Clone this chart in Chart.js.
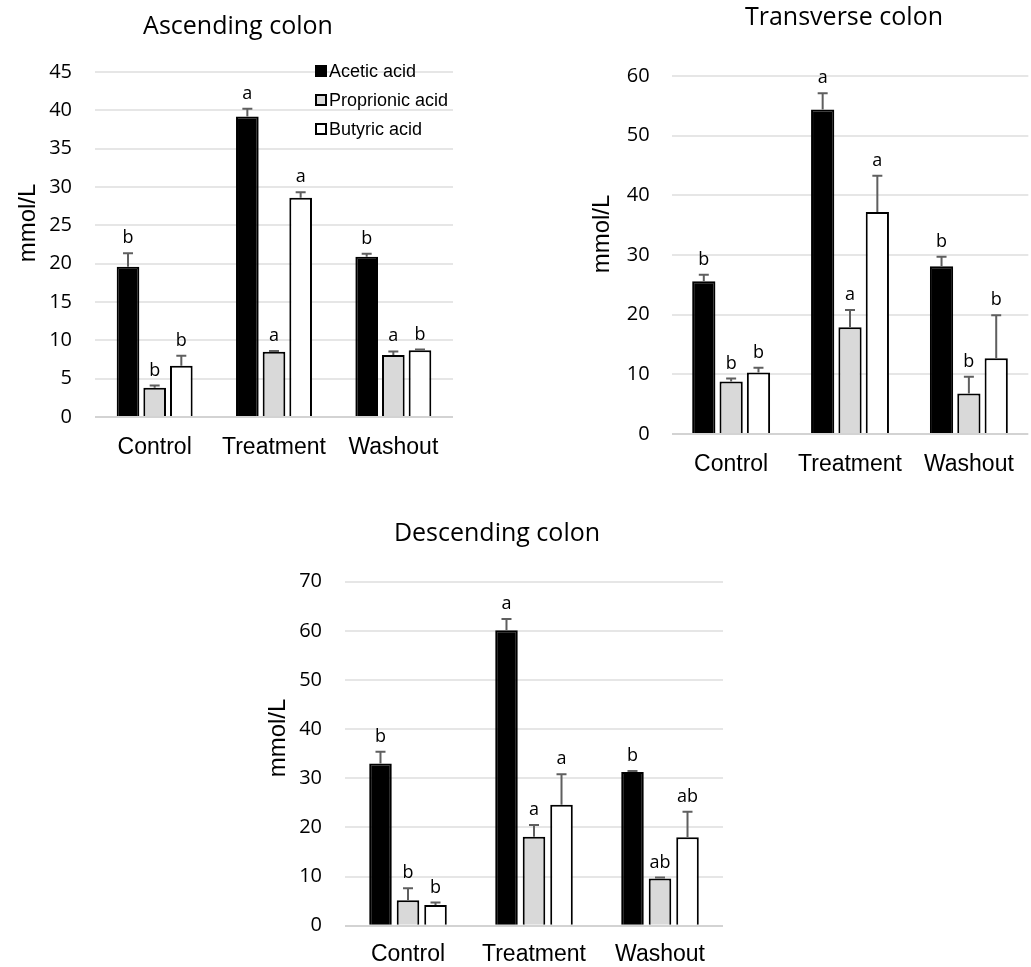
<!DOCTYPE html>
<html>
<head>
<meta charset="utf-8">
<script src="https://cdn.jsdelivr.net/npm/chart.js@4.4.1/dist/chart.umd.min.js"></script>
<style>
  html, body { margin: 0; padding: 0; background: #ffffff; }
  body { width: 1031px; height: 967px; position: relative; overflow: hidden; }
  canvas { position: absolute; }
</style>
</head>
<body>
<canvas id="ascending" width="480" height="480" style="left:0px;top:0px"></canvas>
<canvas id="transverse" width="491" height="490" style="left:540px;top:0px"></canvas>
<canvas id="descending" width="500" height="477" style="left:250px;top:490px"></canvas>
<script>
// Sampling periods and short-chain fatty acids
const groups = ['Control', 'Treatment', 'Washout'];
const acidNames = ['Acetic acid', 'Proprionic acid', 'Butyric acid'];

// Ascending colon (mmol/L): means, error (SE) and significance letters
const ascAcetic = [19.6, 39.2, 20.9];
const ascAceticErr = [1.75, 1.0, 0.4];
const ascAceticSig = ['b', 'a', 'b'];
const ascPropionic = [3.8, 8.5, 8.1];
const ascPropionicErr = [0.3, 0.1, 0.45];
const ascPropionicSig = ['b', 'a', 'a'];
const ascButyric = [6.7, 28.6, 8.7];
const ascButyricErr = [1.3, 0.7, 0.1];
const ascButyricSig = ['b', 'a', 'b'];
const ascTicks = { max: 45, step: 5 };

// Transverse colon (mmol/L)
const trAcetic = [25.6, 54.4, 28.1];
const trAceticErr = [1.1, 2.7, 1.6];
const trAceticSig = ['b', 'a', 'b'];
const trPropionic = [8.8, 17.9, 6.8];
const trPropionicErr = [0.5, 2.9, 2.8];
const trPropionicSig = ['b', 'a', 'b'];
const trButyric = [10.3, 37.2, 12.7];
const trButyricErr = [0.8, 6.1, 7.2];
const trButyricSig = ['b', 'a', 'b'];
const trTicks = { max: 60, step: 10 };

// Descending colon (mmol/L)
const dsAcetic = [33.0, 60.1, 31.3];
const dsAceticErr = [2.4, 2.3, 0.2];
const dsAceticSig = ['b', 'a', 'b'];
const dsPropionic = [5.2, 18.1, 9.6];
const dsPropionicErr = [2.4, 2.4, 0.2];
const dsPropionicSig = ['b', 'a', 'ab'];
const dsButyric = [4.2, 24.6, 18.0];
const dsButyricErr = [0.5, 6.2, 5.2];
const dsButyricSig = ['b', 'a', 'ab'];
const dsTicks = { max: 70, step: 10 };

const fillColors = ['#000000', '#d9d9d9', '#ffffff'];

// Upward error bars with a cap, drawn from each bar's value
const errorBars = {
  id: 'errorBars',
  afterDatasetsDraw(chart, args, opts) {
    const { ctx } = chart;
    const y = chart.scales.y;
    ctx.save();
    ctx.strokeStyle = opts.color;
    ctx.lineWidth = opts.width;
    chart.data.datasets.forEach((ds, i) => {
      chart.getDatasetMeta(i).data.forEach((bar, j) => {
        const base = y.getPixelForValue(ds.data[j]);
        const top = y.getPixelForValue(ds.data[j] + ds.errors[j]);
        ctx.beginPath();
        ctx.moveTo(bar.x, base);
        ctx.lineTo(bar.x, top);
        ctx.moveTo(bar.x - opts.cap / 2, top);
        ctx.lineTo(bar.x + opts.cap / 2, top);
        ctx.stroke();
      });
    });
    ctx.restore();
  }
};

// Significance letters above the error bars
const sigLetters = {
  id: 'sigLetters',
  afterDatasetsDraw(chart, args, opts) {
    const { ctx } = chart;
    const y = chart.scales.y;
    ctx.save();
    ctx.font = opts.font;
    ctx.fillStyle = opts.color;
    ctx.textAlign = 'center';
    ctx.textBaseline = 'alphabetic';
    chart.data.datasets.forEach((ds, i) => {
      chart.getDatasetMeta(i).data.forEach((bar, j) => {
        const top = y.getPixelForValue(ds.data[j] + ds.errors[j]);
        ctx.fillText(ds.letters[j], bar.x, top - opts.gap);
      });
    });
    ctx.restore();
  }
};

// Panel title and vertical axis title
const panelText = {
  id: 'panelText',
  afterDraw(chart, args, opts) {
    const { ctx } = chart;
    ctx.save();
    ctx.fillStyle = '#000000';
    ctx.textAlign = 'center';
    ctx.textBaseline = 'alphabetic';
    ctx.font = opts.titleFont;
    ctx.fillText(opts.title, opts.titleX, opts.titleY);
    ctx.translate(opts.axisX, opts.axisY);
    ctx.rotate(-Math.PI / 2);
    ctx.font = opts.axisFont;
    ctx.fillText(opts.axisTitle, 0, 0);
    ctx.restore();
  }
};

// Vertical legend with outlined square swatches
const boxLegend = {
  id: 'boxLegend',
  afterDraw(chart, args, opts) {
    if (!opts.show) return;
    const { ctx } = chart;
    ctx.save();
    ctx.font = opts.font;
    ctx.textAlign = 'left';
    ctx.textBaseline = 'alphabetic';
    chart.data.datasets.forEach((ds, i) => {
      const base = opts.y + i * opts.rowGap;
      ctx.fillStyle = ds.backgroundColor;
      ctx.fillRect(opts.x, base - opts.box, opts.box, opts.box);
      ctx.strokeStyle = '#000000';
      ctx.lineWidth = 2;
      ctx.strokeRect(opts.x + 1, base - opts.box + 1, opts.box - 2, opts.box - 2);
      ctx.fillStyle = '#000000';
      ctx.fillText(ds.label, opts.x + opts.box + 2, base);
    });
    ctx.restore();
  }
};

function makeDatasets(values, errors, letters, catPct, barPct) {
  return values.map((v, i) => ({
    label: acidNames[i],
    data: v,
    errors: errors[i],
    letters: letters[i],
    backgroundColor: fillColors[i],
    borderColor: '#000000',
    borderWidth: 2,
    categoryPercentage: catPct,
    barPercentage: barPct
  }));
}

function makeChart(id, cfg) {
  new Chart(document.getElementById(id), {
    type: 'bar',
    data: {
      labels: groups,
      datasets: makeDatasets(cfg.values, cfg.errors, cfg.letters, cfg.catPct, cfg.barPct)
    },
    plugins: [errorBars, sigLetters, panelText, boxLegend],
    options: {
      responsive: false,
      animation: false,
      layout: { padding: cfg.padding },
      scales: {
        x: {
          grid: { display: false, drawTicks: false },
          border: { display: false },
          ticks: {
            color: '#000000',
            padding: cfg.xPad,
            font: { family: "'Liberation Sans', Arial, sans-serif", size: 23, lineHeight: 1.2 }
          },
          afterFit(scale) { scale.height = cfg.xHeight; }
        },
        y: {
          min: 0,
          max: cfg.ticks.max,
          border: { display: false },
          grid: {
            drawTicks: false,
            lineWidth: 2,
            color: (c) => (c.tick && c.tick.value === 0 ? '#d3d3d3' : '#e6e6e6')
          },
          ticks: {
            stepSize: cfg.ticks.step,
            color: '#000000',
            padding: cfg.yPad,
            font: { family: "'Open Sans', sans-serif", size: 20 }
          },
          afterFit(scale) { scale.width = cfg.yWidth; }
        }
      },
      plugins: {
        legend: { display: false },
        tooltip: { enabled: false },
        title: { display: false },
        errorBars: { color: '#5f5f5f', width: 2, cap: 10 },
        sigLetters: { font: "18px 'Open Sans', sans-serif", color: '#000000', gap: 10 },
        panelText: cfg.text,
        boxLegend: cfg.legend || { show: false }
      }
    }
  });
}

makeChart('ascending', {
  values: [ascAcetic, ascPropionic, ascButyric],
  errors: [ascAceticErr, ascPropionicErr, ascButyricErr],
  letters: [ascAceticSig, ascPropionicSig, ascButyricSig],
  ticks: ascTicks,
  catPct: 0.67, barPct: 0.85,
  padding: { left: 0, top: 72, right: 27, bottom: 13 },
  yWidth: 95, yPad: 23, xHeight: 50, xPad: 17,
  text: {
    title: 'Ascending colon', titleX: 238, titleY: 34, titleFont: "25px 'Open Sans', sans-serif",
    axisTitle: 'mmol/L', axisX: 35, axisY: 223, axisFont: "24px 'Liberation Sans', Arial, sans-serif"
  },
  legend: { show: true, x: 315, y: 77, rowGap: 29, box: 12, font: "18px 'Liberation Sans', Arial, sans-serif" }
});

makeChart('transverse', {
  values: [trAcetic, trPropionic, trButyric],
  errors: [trAceticErr, trPropionicErr, trButyricErr],
  letters: [trAceticSig, trPropionicSig, trButyricSig],
  ticks: trTicks,
  catPct: 0.69, barPct: 0.85,
  padding: { left: 0, top: 76, right: 1, bottom: 6 },
  yWidth: 131.7, yPad: 22, xHeight: 50, xPad: 17,
  text: {
    title: 'Transverse colon', titleX: 304, titleY: 25, titleFont: "25px 'Open Sans', sans-serif",
    axisTitle: 'mmol/L', axisX: 69, axisY: 234, axisFont: "24px 'Liberation Sans', Arial, sans-serif"
  }
});

makeChart('descending', {
  values: [dsAcetic, dsPropionic, dsButyric],
  errors: [dsAceticErr, dsPropionicErr, dsButyricErr],
  letters: [dsAceticSig, dsPropionicSig, dsButyricSig],
  ticks: dsTicks,
  catPct: 0.655, barPct: 0.82,
  padding: { left: 0, top: 91.7, right: 27, bottom: 1.3 },
  yWidth: 95, yPad: 23, xHeight: 40, xPad: 15,
  text: {
    title: 'Descending colon', titleX: 247, titleY: 51, titleFont: "25px 'Open Sans', sans-serif",
    axisTitle: 'mmol/L', axisX: 35, axisY: 248, axisFont: "24px 'Liberation Sans', Arial, sans-serif"
  }
});
</script>
</body>
</html>
